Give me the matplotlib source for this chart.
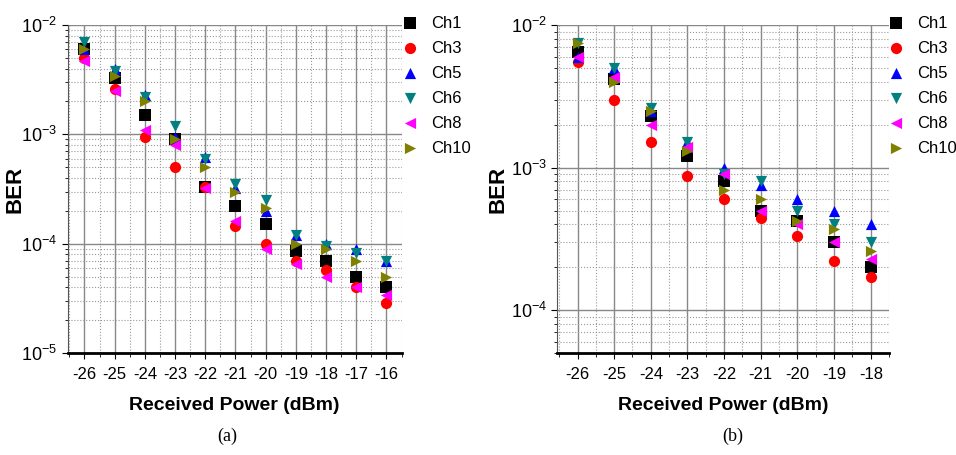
import numpy as np
import matplotlib
matplotlib.use("Agg")
import matplotlib.pyplot as plt
from matplotlib.ticker import LogLocator, FixedLocator, NullFormatter

plt.rcParams['font.family'] = ['Liberation Sans', 'DejaVu Sans']
plt.rcParams['mathtext.fontset'] = 'custom'
plt.rcParams['mathtext.rm'] = 'Liberation Sans'
plt.rcParams['mathtext.it'] = 'Liberation Sans:italic'
plt.rcParams['mathtext.bf'] = 'Liberation Sans:bold'

channels = ['Ch1', 'Ch3', 'Ch5', 'Ch6', 'Ch8', 'Ch10']
markers = ['s', 'o', '^', 'v', '<', '>']
colors = ['black', 'red', 'blue', '#008080', '#ff00ff', '#808000']

# panel (a)
power_a = [-26, -25, -24, -23, -22, -21, -20, -19, -18, -17, -16]
ber_a = {
    'Ch1':  [6.0e-3, 3.3e-3, 1.5e-3, 9.0e-4, 3.3e-4, 2.2e-4, 1.5e-4, 8.5e-5, 7.0e-5, 5.0e-5, 4.0e-5],
    'Ch3':  [5.0e-3, 2.6e-3, 9.5e-4, 5.0e-4, 3.3e-4, 1.45e-4, 1.0e-4, 7.0e-5, 5.8e-5, 4.0e-5, 2.9e-5],
    'Ch5':  [6.0e-3, 4.0e-3, 2.3e-3, 9.5e-4, 6.2e-4, 3.2e-4, 2.0e-4, 1.2e-4, 1.0e-4, 9.0e-5, 7.0e-5],
    'Ch6':  [7.0e-3, 3.8e-3, 2.2e-3, 1.2e-3, 6.0e-4, 3.5e-4, 2.5e-4, 1.2e-4, 9.5e-5, 8.3e-5, 7.0e-5],
    'Ch8':  [4.7e-3, 2.5e-3, 1.1e-3, 8.0e-4, 3.2e-4, 1.6e-4, 9.0e-5, 6.5e-5, 5.0e-5, 4.0e-5, 3.4e-5],
    'Ch10': [6.0e-3, 3.4e-3, 2.0e-3, 9.0e-4, 5.0e-4, 3.0e-4, 2.1e-4, 1.0e-4, 9.0e-5, 7.0e-5, 5.0e-5],
}

# panel (b)
power_b = [-26, -25, -24, -23, -22, -21, -20, -19, -18]
ber_b = {
    'Ch1':  [6.5e-3, 4.2e-3, 2.3e-3, 1.2e-3, 8.0e-4, 5.0e-4, 4.2e-4, 3.0e-4, 2.0e-4],
    'Ch3':  [5.5e-3, 3.0e-3, 1.5e-3, 8.8e-4, 6.0e-4, 4.4e-4, 3.3e-4, 2.2e-4, 1.7e-4],
    'Ch5':  [6.0e-3, 5.0e-3, 2.5e-3, 1.5e-3, 1.0e-3, 7.5e-4, 6.0e-4, 5.0e-4, 4.0e-4],
    'Ch6':  [7.5e-3, 5.0e-3, 2.6e-3, 1.5e-3, 9.0e-4, 8.0e-4, 5.0e-4, 4.0e-4, 3.0e-4],
    'Ch8':  [6.0e-3, 4.3e-3, 2.0e-3, 1.4e-3, 9.0e-4, 5.0e-4, 4.0e-4, 3.0e-4, 2.3e-4],
    'Ch10': [7.5e-3, 4.0e-3, 2.5e-3, 1.3e-3, 7.0e-4, 6.0e-4, 4.2e-4, 3.7e-4, 2.6e-4],
}


def draw_panel(ax, power, ber, ylim, ylabel_x, legend_x):
    for ch, m, c in zip(channels, markers, colors):
        ax.scatter(power, ber[ch], marker=m, color=c, s=65, label=ch, zorder=3, linewidths=0)
    ax.set_yscale('log')
    ax.set_ylim(*ylim)
    ax.set_xlim(power[0] - 0.55, power[-1] + 0.5)
    ax.set_xticks(power)
    ax.set_xticklabels([str(p) for p in power], fontsize=12)
    ax.xaxis.set_minor_locator(FixedLocator(np.arange(power[0] - 0.5, power[-1] + 1, 1.0)))
    ax.yaxis.set_major_locator(LogLocator(base=10))
    ax.yaxis.set_minor_locator(LogLocator(base=10, subs=np.arange(2, 10)))
    ax.yaxis.set_minor_formatter(NullFormatter())
    ax.tick_params(axis='y', labelsize=13, length=4, which='major')
    ax.tick_params(axis='y', which='minor', length=2)
    ax.tick_params(axis='x', which='major', length=4, bottom=True, pad=6)
    ax.tick_params(axis='x', which='minor', length=3, bottom=True)
    ax.grid(True, which='major', color='#888888', linewidth=1.0, linestyle='-')
    ax.grid(True, which='minor', color='#999999', linewidth=0.8, linestyle=':')
    ax.set_axisbelow(True)
    for s in ['top', 'right']:
        ax.spines[s].set_visible(False)
    ax.spines['bottom'].set_linewidth(2)
    ax.spines['left'].set_color('#555555')
    ax.set_ylabel('BER', fontsize=16, fontweight='bold')
    ax.yaxis.set_label_coords(ylabel_x, 0.5)
    ax.set_xlabel('Received Power (dBm)', fontsize=14, fontweight='bold', labelpad=11)
    ax.legend(loc='upper left', bbox_to_anchor=(legend_x, 1.028), frameon=False, fontsize=12,
              handlelength=1.0, handletextpad=0.8, labelspacing=0.6, borderaxespad=0,
              borderpad=0)


fig = plt.figure(figsize=(9.56, 4.55), dpi=100)
ax1 = fig.add_axes([0.071, 0.224, 0.349, 0.721])
ax2 = fig.add_axes([0.583, 0.224, 0.347, 0.721])

draw_panel(ax1, power_a, ber_a, (1e-5, 1e-2), -0.128, 1.0)
draw_panel(ax2, power_b, ber_b, (5e-5, 1e-2), -0.148, 0.995)

fig.text(0.238, 0.03, '(a)', fontsize=13, family='Liberation Serif', ha='center')
fig.text(0.766, 0.03, '(b)', fontsize=13, family='Liberation Serif', ha='center')

fig.savefig('out.png', dpi=100)
